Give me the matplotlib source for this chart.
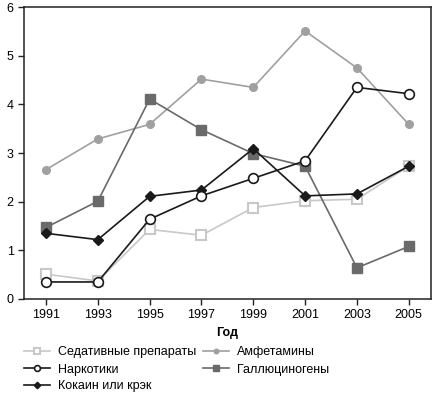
import matplotlib
matplotlib.use("Agg")
import matplotlib.pyplot as plt

plt.rcParams['font.family'] = ['Liberation Sans', 'DejaVu Sans']
plt.rcParams['font.size'] = 9

years = [1991, 1993, 1995, 1997, 1999, 2001, 2003, 2005]

sedativ = [0.51, 0.37, 1.43, 1.31, 1.88, 2.02, 2.05, 2.73]
narkotiki = [0.35, 0.35, 1.64, 2.12, 2.48, 2.84, 4.35, 4.22]
kokain = [1.35, 1.22, 2.11, 2.24, 3.09, 2.12, 2.16, 2.73]
amfetamin = [2.66, 3.29, 3.59, 4.52, 4.35, 5.51, 4.75, 3.59]
gallyuc = [1.47, 2.01, 4.11, 3.48, 2.99, 2.73, 0.64, 1.08]

fig = plt.figure(figsize=(4.36, 3.96), dpi=100)
ax = fig.add_axes([0.055, 0.245, 0.933, 0.737])

ax.plot(years, sedativ, color='#c8c8c8', lw=1.2, marker='s', ms=6.5,
        mfc='white', mec='#c8c8c8', mew=1.5, label='Седативные препараты')
ax.plot(years, amfetamin, color='#a0a0a0', lw=1.2, marker='o', ms=5.5,
        mfc='#a0a0a0', mec='#a0a0a0', label='Амфетамины')
ax.plot(years, gallyuc, color='#6a6a6a', lw=1.2, marker='s', ms=6.5,
        mfc='#6a6a6a', mec='#6a6a6a', label='Галлюциногены')
ax.plot(years, kokain, color='#1a1a1a', lw=1.2, marker='D', ms=5.5,
        mfc='#1a1a1a', mec='#1a1a1a', label='Кокаин или крэк')
ax.plot(years, narkotiki, color='#1a1a1a', lw=1.2, marker='o', ms=7,
        mfc='white', mec='#1a1a1a', mew=1.2, label='Наркотики')

ax.set_xlim(1990.15, 2005.85)
ax.set_ylim(0, 6)
ax.set_xticks(years)
ax.set_yticks(range(0, 7))
ax.tick_params(direction='out', length=4, width=1, color='#222222')
ax.set_xlabel('Год', fontweight='bold', labelpad=4)
for s in ax.spines.values():
    s.set_linewidth(1.1)
    s.set_color('#222222')

h, l = ax.get_legend_handles_labels()
order = ['Седативные препараты', 'Наркотики', 'Кокаин или крэк', 'Амфетамины', 'Галлюциногены']
hh = [h[l.index(o)] for o in order]
fig.legend(hh, order, ncol=2, loc='upper left', bbox_to_anchor=(0.055, 0.125),
           frameon=False, handlelength=2.1, handletextpad=0.65,
           columnspacing=0.5, labelspacing=0.4, borderaxespad=0, borderpad=0,
           markerscale=0.6)

fig.savefig('out.png', dpi=100)
